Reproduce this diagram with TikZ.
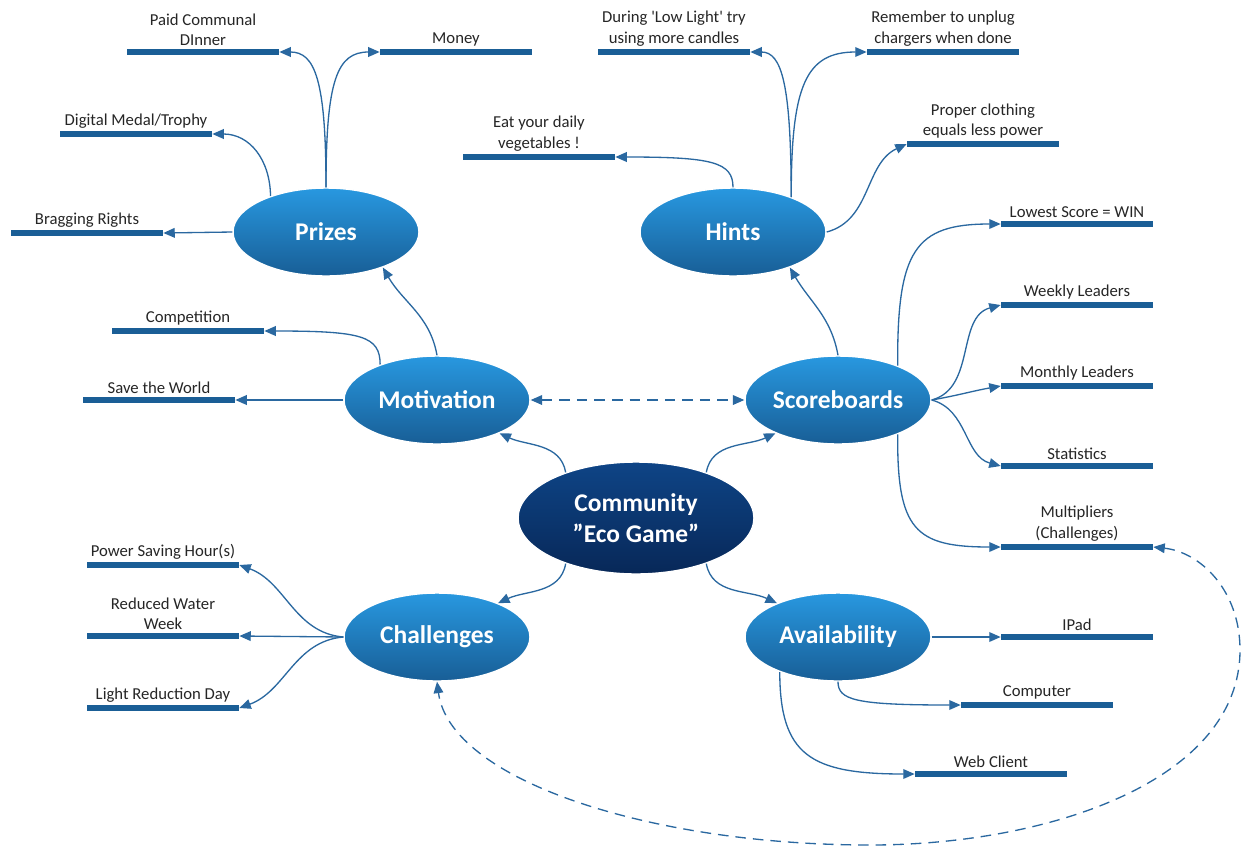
\documentclass[tikz,border=0pt]{standalone}
\usepackage{fontspec}
\setmainfont{Carlito}
\usetikzlibrary{positioning,shapes.geometric,arrows.meta}

\definecolor{connblue}{RGB}{42,104,160}
\definecolor{barblue}{RGB}{26,94,150}
\definecolor{topblue}{RGB}{40,152,224}
\definecolor{botblue}{RGB}{24,94,150}
\definecolor{navytop}{RGB}{14,68,134}
\definecolor{navybot}{RGB}{8,40,88}

\tikzset{
	topic/.style={ellipse, top color=topblue, bottom color=botblue,
		draw=white, line width=0.8pt, minimum width=3.72cm, minimum height=1.76cm,
		inner sep=0pt, text=white, font=\fontsize{14.5}{17}\selectfont\bfseries},
	hub/.style={topic, top color=navytop, bottom color=navybot,
		minimum width=4.72cm, minimum height=2.24cm, align=center,
		font=\fontsize{14.5}{18}\selectfont\bfseries},
	leaf/.style={fill=barblue, minimum width=3.04cm, minimum height=0.11cm, inner sep=0pt},
	lbl/.style={font=\fontsize{9.5}{11.5}\selectfont, text=black!85, align=center, inner sep=1.5pt},
	conn/.style={draw=connblue, line width=0.75pt, -{Triangle[length=6.5pt,width=5.5pt]}},
	link/.style={draw=connblue, line width=0.75pt, dash pattern=on 6pt off 4pt,
		{Triangle[length=6.5pt,width=5.5pt]}-{Triangle[length=6.5pt,width=5.5pt]}},
}

\begin{document}
\begin{tikzpicture}[x=0.02cm, y=-0.02cm]

\path[use as bounding box, fill=white] (0, 0) rectangle (1241, 846);

% Topics
\node [hub] (community) at (636, 518) {Community\\”Eco Game”};
\node [topic] (prizes) at (326, 232) {Prizes};
\node [topic] (hints) at (733, 232) {Hints};
\node [topic] (motivation) at (437, 400) {Motivation};
\node [topic] (scoreboards) at (838, 400) {Scoreboards};
\node [topic] (challenges) at (437, 637) {Challenges};
\node [topic] (availability) at (838, 637) {Availability};

% Prizes leaves
\node [leaf, label={[lbl]above:{Paid Communal\\DInner}}] (dinner) at (203, 52) {};
\node [leaf, label={[lbl]above:{Money}}] (money) at (456, 52) {};
\node [leaf, label={[lbl]above:{Digital Medal/Trophy}}] (digital) at (136, 134) {};
\node [leaf, label={[lbl]above:{Bragging Rights}}] (bragging) at (87, 233) {};

% Hints leaves
\node [leaf, label={[lbl]above:{Eat your daily\\vegetables !}}] (vegetables) at (539, 157) {};
\node [leaf, label={[lbl]above:{During \textquotesingle Low Light\textquotesingle{} try\\using more candles}}] (candles) at (674, 52) {};
\node [leaf, label={[lbl]above:{Remember to unplug\\chargers when done}}] (unplug) at (943, 52) {};
\node [leaf, label={[lbl]above:{Proper clothing\\equals less power}}] (clothing) at (983, 144) {};

% Motivation leaves
\node [leaf, label={[lbl]above:{Competition}}] (competition) at (188, 331) {};
\node [leaf, label={[lbl]above:{Save the World}}] (saveworld) at (159, 400) {};

% Scoreboards leaves
\node [leaf, label={[lbl]above:{Lowest Score = WIN}}] (lowest) at (1077, 224) {};
\node [leaf, label={[lbl]above:{Weekly Leaders}}] (weekly) at (1077, 305) {};
\node [leaf, label={[lbl]above:{Monthly Leaders}}] (monthly) at (1077, 386) {};
\node [leaf, label={[lbl]above:{Statistics}}] (statistics) at (1077, 466) {};
\node [leaf, label={[lbl]above:{Multipliers\\(Challenges)}}] (multipliers) at (1077, 547) {};

% Challenges leaves
\node [leaf, label={[lbl]above:{Power Saving Hour(s)}}] (powersaving) at (163, 565) {};
\node [leaf, label={[lbl]above:{Reduced Water\\Week}}] (water) at (163, 636) {};
\node [leaf, label={[lbl]above:{Light Reduction Day}}] (lightday) at (163, 708) {};

% Availability leaves
\node [leaf, label={[lbl]above:{IPad}}] (ipad) at (1077, 637) {};
\node [leaf, label={[lbl]above:{Computer}}] (computer) at (1037, 705) {};
\node [leaf, label={[lbl]above:{Web Client}}] (webclient) at (991, 774) {};

% Hub to topics
\draw[conn] (community.147) to[out=100, in=-25] (motivation.-28);
\draw[conn] (community.33) to[out=80, in=205] (scoreboards.208);
\draw[conn] (community.-147) to[out=-100, in=25] (challenges.29);
\draw[conn] (community.-33) to[out=-80, in=155] (availability.151);
\draw[conn] (motivation.north) to[out=100, in=-60] (prizes.-32);
\draw[conn] (scoreboards.north) to[out=100, in=-60] (hints.-32);

% Prizes
\draw[conn] (prizes.west) -- (bragging.east);
\draw[conn] (prizes.147) .. controls (270, 160) and (250, 134) .. (digital.east);
\draw[conn] (prizes.north) .. controls (326, 80) and (315, 52) .. (dinner.east);
\draw[conn] (prizes.north) .. controls (326, 80) and (337, 52) .. (money.west);

% Hints
\draw[conn] (hints.north) .. controls (733, 162) and (712, 157) .. (vegetables.east);
\draw[conn] (hints.31) .. controls (791, 85) and (782, 52) .. (candles.east);
\draw[conn] (hints.31) .. controls (791, 85) and (806, 52) .. (unplug.west);
\draw[conn] (hints.east) to[out=15, in=205] (clothing.west);

% Motivation
\draw[conn] (motivation.west) -- (saveworld.east);
\draw[conn] (motivation.148) .. controls (380, 336) and (362, 331) .. (competition.east);

% Scoreboards
\draw[conn] (scoreboards.30) .. controls (897, 250) and (915, 224) .. (lowest.west);
\draw[conn] (scoreboards.east) to[out=15, in=195] (weekly.west);
\draw[conn] (scoreboards.east) to[out=10, in=190] (monthly.west);
\draw[conn] (scoreboards.east) to[out=-15, in=165] (statistics.west);
\draw[conn] (scoreboards.-30) .. controls (897, 530) and (915, 547) .. (multipliers.west);

% Challenges
\draw[conn] (challenges.west) to[out=175, in=-20] (powersaving.east);
\draw[conn] (challenges.west) -- (water.east);
\draw[conn] (challenges.west) to[out=185, in=20] (lightday.east);

% Availability
\draw[conn] (availability.east) -- (ipad.west);
\draw[conn] (availability.south) .. controls (838, 700) and (855, 705) .. (computer.west);
\draw[conn] (availability.211) .. controls (780, 755) and (810, 774) .. (webclient.west);

% Dashed links
\draw[link] (motivation.east) -- (scoreboards.west);
\draw[link] (multipliers.east) .. controls (1200, 552) and (1240, 590) .. (1240, 650)
	.. controls (1240, 780) and (1050, 845) .. (870, 845)
	.. controls (650, 845) and (450, 780) .. (challenges.south);

\end{tikzpicture}
\end{document}
